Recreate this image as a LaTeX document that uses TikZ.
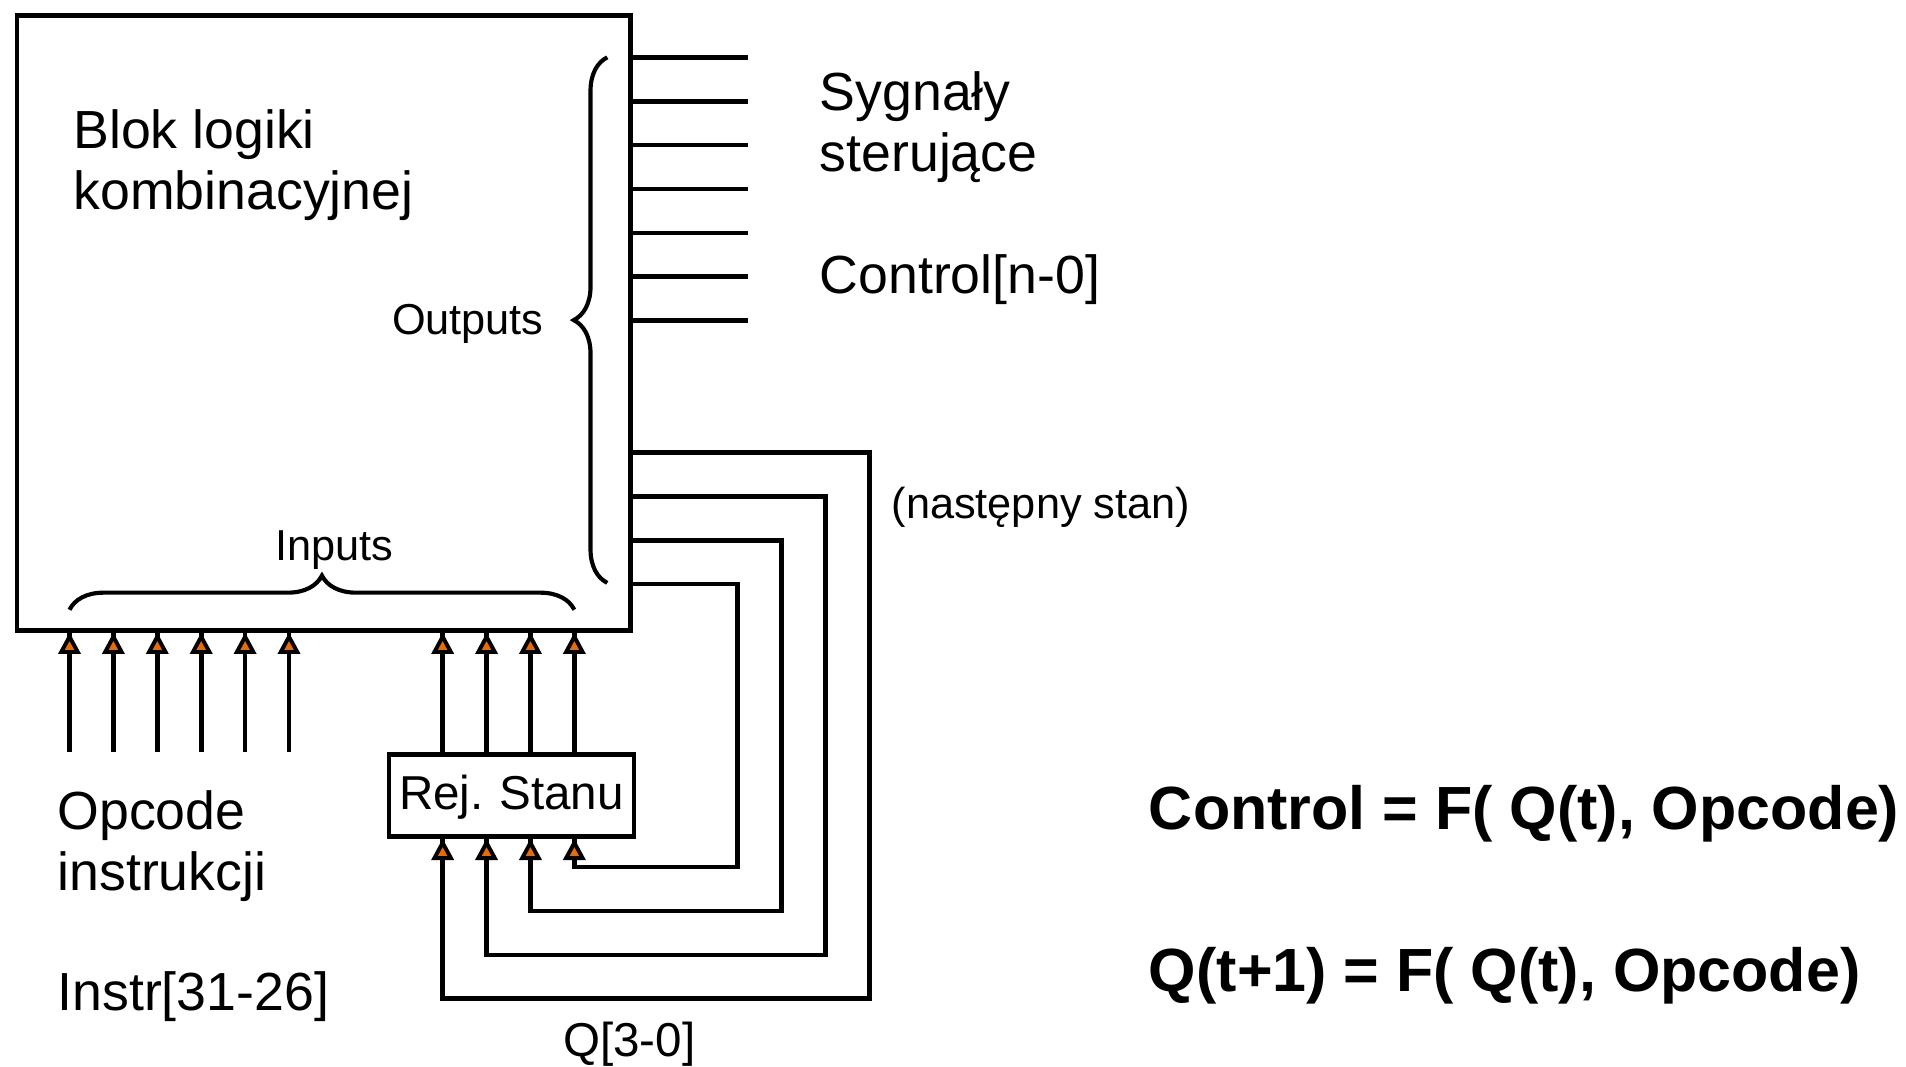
\documentclass[tikz,border=0pt]{standalone}
\usepackage{fontspec}
\setmainfont{Liberation Sans}
\usetikzlibrary{decorations.pathreplacing}
\definecolor{tipor}{RGB}{228,108,10}
\begin{document}
\begin{tikzpicture}[x=1pt,y=1pt,
  wire/.style={line width=3.8pt},
  intip/.pic={\filldraw[fill=tipor, draw=black, line width=3.2pt, line join=miter, miter limit=10]
      (-6.8,-15.9) -- (0,-3.35) -- (6.8,-15.9) -- cycle;},
  bigtxt/.style={font=\fontsize{44}{50}\selectfont, inner sep=0pt},
  midtxt/.style={font=\fontsize{35.5}{40}\selectfont, inner sep=0pt},
  regtxt/.style={font=\fontsize{39}{44}\selectfont, inner sep=0pt},
  eqtxt/.style={font=\fontsize{50}{56}\selectfont\bfseries, inner sep=0pt},
  bracedeco/.style={line width=3.4pt, decorate, decoration={brace, amplitude=#1}}
]
\useasboundingbox (0,0) rectangle (1563,-874.2);

% main block
\node[draw, line width=3.8pt, minimum width=503pt, minimum height=504pt, anchor=north west, inner sep=0pt] (blk) at (12,-11) {};
\node[bigtxt, anchor=base west] (t1) at (60,-122) {Blok logiki};
\node[bigtxt, anchor=base west] (t2) at (60,-172) {kombinacyjnej};

% outputs
\foreach \y [count=\i] in {47,83,119,155,191,227,263} {
  \coordinate (o\i) at (613,-\y);
  \draw[wire] (blk.east |- o\i) -- (o\i);
}
\draw[bracedeco=27.5pt] (498,-478) -- (498,-47);
\node[midtxt, anchor=base east] (outl) at (446,-274.5) {Outputs};
\node[bigtxt, anchor=base west] (s1) at (672,-91) {Sygnały};
\node[bigtxt, anchor=base west] (s2) at (672,-141) {sterujące};
\node[bigtxt, anchor=base west] (s3) at (672,-241) {Control[n-0]};

% inputs brace
\draw[bracedeco=28pt] (57,-500) -- (471,-500);
\node[midtxt, anchor=base] (inl) at (274,-459.5) {Inputs};

% state register
\node[draw, line width=3.8pt, minimum width=201pt, minimum height=67pt, anchor=north west, inner sep=0pt] (rej) at (317,-617) {};
\node[regtxt] (rejt) at ([yshift=-1pt]rej.center) {Rej.\,\,Stanu};

% opcode inputs
\foreach \x [count=\i] in {57,93,129,165,201,237} {
  \coordinate (op\i) at (\x,-617);
  \draw[wire] (op\i) -- (op\i |- blk.south);
  \pic at (op\i |- blk.south) {intip};
}
\node[bigtxt, anchor=base west] (c1) at (47,-680) {Opcode};
\node[bigtxt, anchor=base west] (c2) at (47,-730) {instrukcji};
\node[bigtxt, anchor=base west] (c3) at (47,-829) {Instr[31-26]};

% register outputs to block
\foreach \x [count=\i] in {363,399,435,471} {
  \coordinate (q\i) at (\x,-650);
  \draw[wire] (rej.north -| q\i) -- (blk.south -| q\i);
  \pic at (blk.south -| q\i) {intip};
}

% feedback
\coordinate (fb1) at (515,-371);
\coordinate (fb2) at (515,-407);
\coordinate (fb3) at (515,-443);
\coordinate (fb4) at (515,-479);
\draw[wire] (fb1) -- (713,-371) -- (713,-819) -- (363,-819) -- (rej.south -| q1);
\draw[wire] (fb2) -- (677,-407) -- (677,-783) -- (399,-783) -- (rej.south -| q2);
\draw[wire] (fb3) -- (641,-443) -- (641,-747) -- (435,-747) -- (rej.south -| q3);
\draw[wire] (fb4) -- (605,-479) -- (605,-711) -- (471,-711) -- (rej.south -| q4);
\foreach \i in {1,2,3,4} { \pic at (rej.south -| q\i) {intip}; }

\node[midtxt, anchor=base west] (nst) at (731,-425) {(następny stan)};
\node[regtxt, anchor=base] (ql) at (516,-866) {Q[3-0]};

% equations
\node[eqtxt, anchor=base west] (eq1) at (942,-680) {Control = F( Q(t), Opcode)};
\node[eqtxt, anchor=base west] (eq2) at (942,-813) {Q(t+1) = F( Q(t), Opcode)};
\end{tikzpicture}
\end{document}
